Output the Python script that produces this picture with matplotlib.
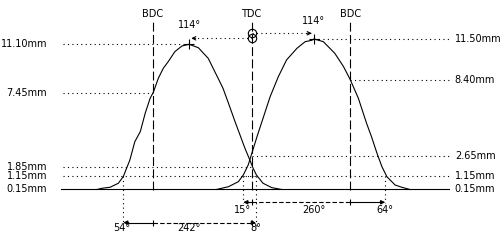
import numpy as np
import matplotlib
matplotlib.use("Agg")
import matplotlib.pyplot as plt

# crank angle in degrees, TDC = 0, BDC = -180 / +180
exh_deg = [-282, -273, -258, -243, -234, -228, -222, -213, -203, -194, -185, -179,
           -170, -161, -152, -140, -127, -114, -97, -79, -61, -52, -42, -30, -21,
           -12, -3, 3, 9, 21, 37, 55]
exh_lift = [0.15, 0.24, 0.32, 0.62, 1.12, 1.75, 2.37, 3.75, 4.51, 5.90, 7.03, 7.50,
            8.54, 9.29, 9.79, 10.54, 10.97, 11.10, 10.84, 10.04, 8.54, 7.78, 6.65,
            5.26, 4.26, 3.26, 2.37, 1.75, 1.24, 0.62, 0.29, 0.15]
int_deg = [-64, -42, -24, -15, -6, 0, 10, 22, 34, 49, 64, 83, 98, 110, 114, 131,
           152, 168, 180, 195, 210, 219, 229, 238, 247, 262, 274, 289]
int_lift = [0.15, 0.36, 0.74, 1.24, 2.00, 2.80, 4.13, 5.64, 7.15, 8.66, 9.92, 10.80,
            11.30, 11.40, 11.50, 11.30, 10.42, 9.41, 8.45, 7.03, 5.14, 4.13, 2.88,
            1.87, 1.12, 0.49, 0.32, 0.15]

# valve events
exh_open, exh_close, exh_peak = -234, 8, -114
int_open, int_close, int_peak = -15, 244, 114
dead_centres = [-180, 0, 180]
dc_names = ["BDC", "TDC", "BDC"]

# lift levels shown on the left and right
left_levels = [11.10, 7.45, 1.85, 1.15, 0.15]
left_ends = [exh_peak, -180, 0, exh_close, None]
right_levels = [11.50, 8.40, 2.65, 1.15, 0.15]
right_starts = [int_peak, 180, 0, int_open, None]

# angle annotations
exh_labels = ["54°", "242°", "8°"]
int_labels = ["15°", "260°", "64°"]
peak_labels = ["114°", "114°"]

X_L, X_R = -344, 362
DOT = (0, (1, 3))
LW = 0.8
FS = 7


def arrow_head(ax, tip, frm, y, style="-|>"):
    ax.annotate("", xy=(tip, y), xytext=(frm, y),
                arrowprops=dict(arrowstyle=style, lw=LW, color="black",
                                mutation_scale=6, shrinkA=0, shrinkB=0))


def main():
    fig = plt.figure(figsize=(5, 2.4), dpi=100)
    ax = fig.add_axes([0, 0, 1, 1])
    ax.set_xlim(-459, 453.5)
    ax.set_ylim(-3.66, 14.44)
    ax.axis("off")
    plt.rcParams["font.family"] = ["DejaVu Sans"]

    # lift curves
    ax.plot(exh_deg, exh_lift, color="black", lw=LW)
    ax.plot(int_deg, int_lift, color="black", lw=LW)
    ax.plot([exh_peak, int_peak], [max(exh_lift), max(int_lift)], "+",
            color="black", ms=7, mew=LW)

    # base line
    ax.plot([X_L - 3, X_R - 2], [0.15, 0.15], color="black", lw=LW)

    # level lines and labels
    for lev, end in zip(left_levels, left_ends):
        if end is not None:
            ax.plot([X_L, end], [lev, lev], color="black", lw=LW, ls=DOT)
        ax.text(-373, lev, "%.2fmm" % lev, ha="right", va="center", fontsize=FS)
    for lev, start in zip(right_levels, right_starts):
        if start is not None:
            ax.plot([start, X_R], [lev, lev], color="black", lw=LW, ls=DOT)
        ax.text(371, lev, "%.2fmm" % lev, ha="left", va="center", fontsize=FS)

    # dead centre lines
    for d, name in zip(dead_centres, dc_names):
        ax.plot([d, d], [0.1, 12.78], color="black", lw=LW, ls=(0, (8, 3)))
        ax.text(d, 13.39, name, ha="center", va="center", fontsize=FS)

    # peak position arrows from TDC
    ax.plot([0, exh_peak + 4], [11.55, 11.55], color="black", lw=LW, ls=DOT)
    arrow_head(ax, exh_peak + 4, exh_peak + 12, 11.55, "->")
    ax.plot([0, int_peak - 4], [11.93, 11.93], color="black", lw=LW, ls=DOT)
    arrow_head(ax, int_peak - 4, int_peak - 12, 11.93, "->")
    ax.plot([0, 0], [11.55, 11.93], "o", color="black", mfc="none", ms=6, mew=LW)
    ax.text(exh_peak, 12.56, peak_labels[0], ha="center", va="center", fontsize=FS)
    ax.text(int_peak, 12.88, peak_labels[1], ha="center", va="center", fontsize=FS)

    # event drop lines
    y_int, y_exh = -0.815, -2.35
    for a, y in [(exh_open, y_exh), (exh_close, -2.75), (int_open, -0.9), (int_close, -0.9)]:
        ax.plot([a, a], [1.15, y], color="black", lw=LW, ls=DOT)

    # intake duration row
    ax.plot([int_open + 8, 0], [y_int, y_int], color="black", lw=LW)
    ax.plot([0, 180], [y_int, y_int], color="black", lw=LW, ls=(0, (4, 2)))
    ax.plot([180, int_close - 6], [y_int, y_int], color="black", lw=LW)
    arrow_head(ax, int_open, int_open + 10, y_int)
    arrow_head(ax, int_close, int_close - 10, y_int)
    ax.plot([0, 180], [y_int, y_int], "|", color="black", ms=5, mew=LW)

    # exhaust duration row
    ax.plot([exh_open + 8, -180], [y_exh, y_exh], color="black", lw=LW)
    ax.plot([-180, 0], [y_exh, y_exh], color="black", lw=LW, ls=(0, (4, 2)))
    arrow_head(ax, exh_open, exh_open + 10, y_exh)
    arrow_head(ax, exh_close, 0, y_exh)
    ax.plot([-180, 0], [y_exh, y_exh], "|", color="black", ms=5, mew=LW)

    # angle labels
    ax.text(-16, -1.40, int_labels[0], ha="center", va="center", fontsize=FS)
    ax.text(114, -1.40, int_labels[1], ha="center", va="center", fontsize=FS)
    ax.text(int_close, -1.40, int_labels[2], ha="center", va="center", fontsize=FS)
    ax.text(exh_open - 3, -2.75, exh_labels[0], ha="center", va="center", fontsize=FS)
    ax.text(-114, -2.75, exh_labels[1], ha="center", va="center", fontsize=FS)
    ax.text(exh_close - 1, -2.75, exh_labels[2], ha="center", va="center", fontsize=FS)

    fig.savefig("out.png", dpi=100, facecolor="white")


if __name__ == "__main__":
    main()
